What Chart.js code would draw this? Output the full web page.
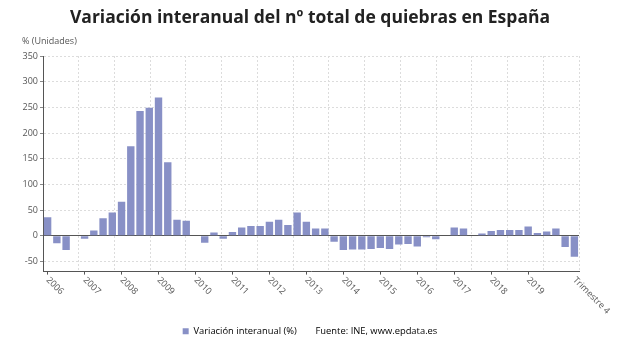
<!DOCTYPE html>
<html><head><meta charset="utf-8">
<script src="https://cdn.jsdelivr.net/npm/chart.js@4.4.0/dist/chart.umd.min.js"></script>
<style>html,body{margin:0;padding:0;background:#fff;}</style>
</head><body>
<canvas id="c" width="620" height="350"></canvas>
<script>
const TITLE = 'Variación interanual del nº total de quiebras en España';
const Y_TITLE = '% (Unidades)';
const SERIES_LABEL = 'Variación interanual (%)';
const SOURCE = 'Fuente: INE, www.epdata.es';

const categories = [
  '2006 T1','2006 T2','2006 T3','2006 T4',
  '2007 T1','2007 T2','2007 T3','2007 T4',
  '2008 T1','2008 T2','2008 T3','2008 T4',
  '2009 T1','2009 T2','2009 T3','2009 T4',
  '2010 T1','2010 T2','2010 T3','2010 T4',
  '2011 T1','2011 T2','2011 T3','2011 T4',
  '2012 T1','2012 T2','2012 T3','2012 T4',
  '2013 T1','2013 T2','2013 T3','2013 T4',
  '2014 T1','2014 T2','2014 T3','2014 T4',
  '2015 T1','2015 T2','2015 T3','2015 T4',
  '2016 T1','2016 T2','2016 T3','2016 T4',
  '2017 T1','2017 T2','2017 T3','2017 T4',
  '2018 T1','2018 T2','2018 T3','2018 T4',
  '2019 T1','2019 T2','2019 T3','2019 T4',
  '2020 T1','2020 T2'
];
const values = [
  36, -15, -28, 0,
  -6, 10, 34, 45,
  66, 174, 243, 249,
  269, 143, 31, 29,
  0, -14, 6, -6,
  7, 16, 19, 19,
  27, 31, 21, 45,
  27, 14, 14, -12,
  -28, -27, -27, -26,
  -24, -26, -17, -16,
  -21, -3, -7, 0,
  16, 14, 0, 4,
  9, 11, 11, 11,
  18, 5, 8, 14,
  -22, -41
];
const tickCategories = ['2006 T1','2007 T1','2008 T1','2009 T1','2010 T1','2011 T1','2012 T1','2013 T1','2014 T1','2015 T1','2016 T1','2017 T1','2018 T1','2019 T1','2020 T2'];
const tickLabels = ['2006','2007','2008','2009','2010','2011','2012','2013','2014','2015','2016','2017','2018','2019','Trimestre 4'];
const yTicks = [-50, 0, 50, 100, 150, 200, 250, 300, 350];

const BAR = '#8890c6';
const FONT = '"Open Sans", "Noto Sans", sans-serif';

const xLabelPlugin = {
  id: 'xLabels',
  afterDraw(chart) {
    const ctx = chart.ctx, xs = chart.scales.x, area = chart.chartArea;
    ctx.save();
    ctx.font = '9px ' + FONT;
    ctx.fillStyle = '#555';
    ctx.textAlign = 'left';
    ctx.textBaseline = 'middle';
    tickCategories.forEach((c, i) => {
      const x = xs.getPixelForValue(categories.indexOf(c));
      ctx.save();
      ctx.translate(x, area.bottom + 7);
      ctx.rotate(Math.PI / 4);
      ctx.fillText(tickLabels[i], 0, 0);
      ctx.restore();
    });
    ctx.fillText(Y_TITLE, 22, 41);
    ctx.restore();
  }
};

new Chart(document.getElementById('c'), {
  type: 'bar',
  data: {
    labels: categories,
    datasets: [{
      label: SERIES_LABEL,
      data: values,
      backgroundColor: BAR,
      borderWidth: 0,
      barPercentage: 0.8,
      categoryPercentage: 1.0
    }]
  },
  options: {
    responsive: false,
    animation: false,
    devicePixelRatio: 1,
    layout: { padding: { left: 0, right: 0, top: 0, bottom: 4 } },
    plugins: {
      title: {
        display: true, text: TITLE, color: '#222',
        font: { family: FONT, size: 17.5, weight: 'bold', lineHeight: 1.2 },
        padding: { top: 7.5, bottom: 27.5 }
      },
      legend: {
        position: 'bottom',
        onClick: () => {},
        labels: {
          boxWidth: 6, boxHeight: 6, padding: 8, color: '#444',
          font: { family: FONT, size: 9.4 },
          generateLabels: (chart) => [
            { text: SERIES_LABEL, fillStyle: BAR, strokeStyle: BAR, lineWidth: 0, datasetIndex: 0, hidden: false },
            { text: SOURCE, fillStyle: 'rgba(0,0,0,0)', strokeStyle: 'rgba(0,0,0,0)', lineWidth: 0, hidden: false }
          ]
        }
      },
      tooltip: { enabled: false }
    },
    scales: {
      x: {
        type: 'category',
        offset: true,
        ticks: { display: false, autoSkip: false },
        grid: {
          offset: false, drawOnChartArea: false, drawTicks: true, tickLength: 3,
          color: (c) => tickCategories.includes(categories[c.index]) && c.index !== categories.length - 1 ? '#555' : 'rgba(0,0,0,0)'
        },
        border: { display: true, color: '#555' },
        afterFit: (s) => { s.height = 47; }
      },
      xg: {
        type: 'linear', position: 'bottom', min: 0, max: 14,
        ticks: { display: false, stepSize: 1 },
        grid: { drawTicks: false, color: '#dcdcdc' },
        border: { display: false, dash: [2, 2] },
        afterFit: (s) => { s.height = 0; }
      },
      y: {
        min: -70, max: 350,
        afterBuildTicks: (s) => { s.ticks = yTicks.map(v => ({ value: v })); },
        ticks: { color: '#555', padding: 2, font: { family: FONT, size: 9 } },
        grid: {
          tickLength: 3,
          color: (c) => (c.tick && c.tick.value === 0) ? '#555' : '#dcdcdc',
          tickColor: '#888'
        },
        border: { color: '#555', dash: (c) => (c.tick && c.tick.value === 0) ? [] : [2, 2] },
        afterFit: (s) => { s.width = 43; }
      },
      yr: {
        type: 'linear', position: 'right', min: 0, max: 1,
        ticks: { display: false },
        grid: { display: false, drawTicks: false },
        border: { display: false },
        afterFit: (s) => { s.width = 41; }
      }
    }
  },
  plugins: [xLabelPlugin]
});
</script>
</body></html>
